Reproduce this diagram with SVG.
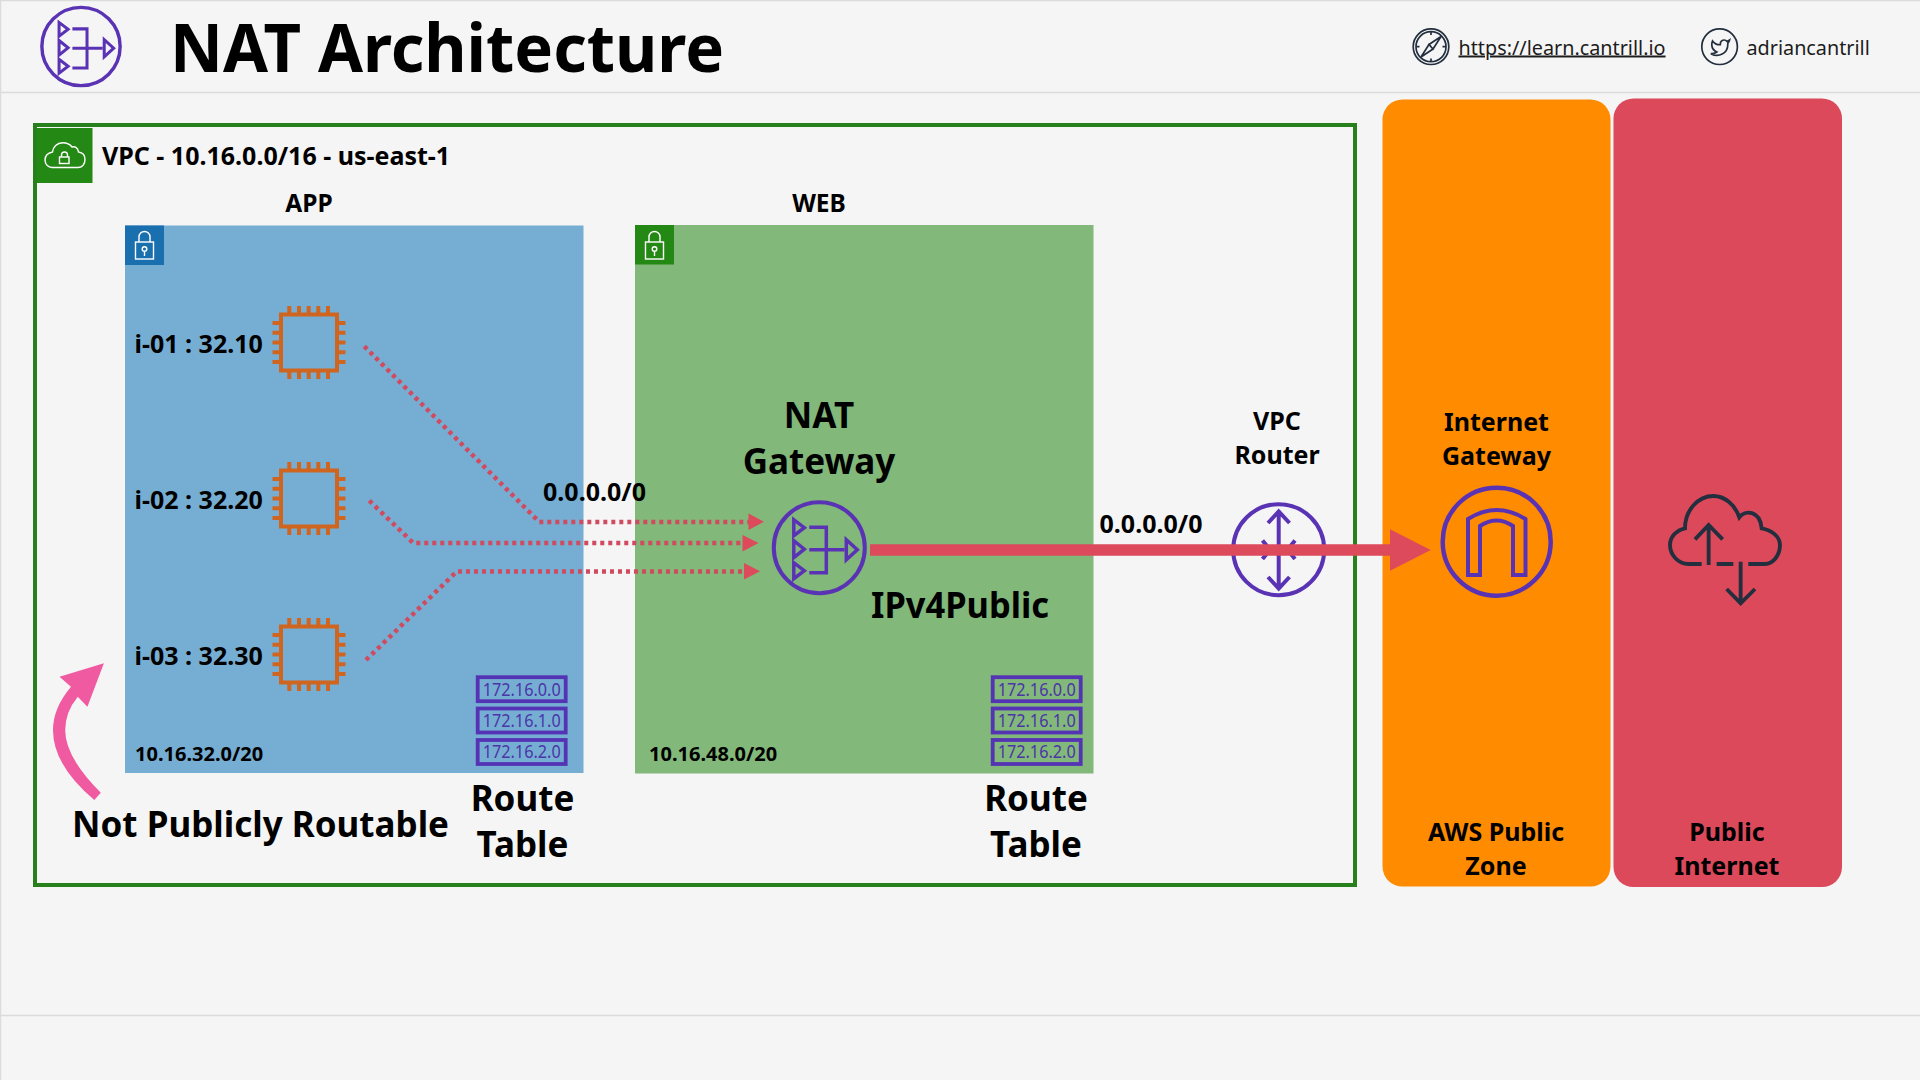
<svg xmlns="http://www.w3.org/2000/svg" width="1920" height="1080" viewBox="0 0 1920 1080">
<style>
text{font-family:"Noto Sans","Open Sans","Liberation Sans",sans-serif;fill:#000;font-weight:700}
.m{text-anchor:middle}
.t25{font-size:25px}
.t35{font-size:35px}
.t24{font-size:24.500px}
.p{fill:none;stroke:#5a33b5;stroke-width:4}
.n{fill:none;stroke:#5a33b5;stroke-width:3.500}
.chip{fill:none;stroke:#cf651f;stroke-width:4}
.w{fill:none;stroke:#fff;stroke-width:1.400}
.k{fill:none;stroke:#232f3e;stroke-width:1.700}
.rt{fill:none;stroke:#5433b5;stroke-width:3.800}
.rtt{font-size:18px;font-weight:400;fill:#4b35a8;text-anchor:middle}
.dot{fill:none;stroke:#d04a60;stroke-width:4.500;stroke-dasharray:4 4}
.ah{fill:#dc4a5c}
</style>
<defs>
<g id="chip">
<rect class="chip" x="-28" y="-28" width="56" height="56"/>
<path class="chip" d="M-19.700-36.500V-29M-10-36.500V-29M-.3-36.500V-29M9.300-36.500V-29M19-36.500V-29M-19.700 29V36.500M-10 29V36.500M-.3 29V36.500M9.300 29V36.500M19 29V36.500M-36.500-19.500H-29M-36.500-9.800H-29M-36.500-.1H-29M-36.500 9.800H-29M-36.500 19.500H-29M29-19.500H36.500M29-9.800H36.500M29-.1H36.500M29 9.800H36.500M29 19.500H36.500"/>
</g>
<g id="lock">
<path class="w" d="M-5.500-7V-12a5.500 5.500 0 0 1 11 0V-7"/>
<rect class="w" x="-9" y="-7" width="18" height="17"/>
<circle class="w" cx="0" cy="0" r="2.300"/>
<path class="w" d="M0 2.300V7"/>
</g>
<g id="routes">
<rect class="rt" x="1.700" y="1.700" width="88" height="24"/>
<rect class="rt" x="1.700" y="33" width="88" height="24"/>
<rect class="rt" x="1.700" y="64.500" width="88" height="24"/>
<text class="rtt" x="45.700" y="20.500" textLength="78" lengthAdjust="spacingAndGlyphs">172.16.0.0</text>
<text class="rtt" x="45.700" y="51" textLength="78" lengthAdjust="spacingAndGlyphs">172.16.1.0</text>
<text class="rtt" x="45.700" y="82" textLength="78" lengthAdjust="spacingAndGlyphs">172.16.2.0</text>
</g>
<g id="nat">
<circle class="p" cx="0" cy="0" r="45.500"/>
<path class="n" d="M-25.500-28V-12L-15-20ZM-25.500-7V10L-15 1.500ZM-25.500 15V31L-15 23ZM-10-20.500H7V25H-10M-10 2H25M27-8V12L38 2Z"/>
</g>
</defs>
<rect id="background" width="1920" height="1080" fill="#f5f5f5"/>
<g id="frame-lines" stroke="#dcdcdc" stroke-width="1.500" fill="none">
<path d="M0 92.500H1920M0 1015.500H1920M0 .5H1920M.5 0V1080"/>
</g>
<g id="header">
<g id="header-icon"><use href="#nat" transform="translate(81 46.500) scale(.86)"/></g>
<text id="title" x="170" y="71.500" font-size="67" textLength="554" lengthAdjust="spacingAndGlyphs">NAT Architecture</text>
<g id="site-link">
<circle class="k" cx="1431" cy="46.700" r="17.800"/>
<circle class="k" cx="1431" cy="46.700" r="15"/>
<path class="k" d="M1441 36.500L1433 49L1429 44.500ZM1421 57L1429 44.500L1433 49Z"/>
<path class="k" d="M1431 32V35M1431 58.500V61.500M1416.500 46.700H1419.500M1442.500 46.700H1445.500"/>
<text x="1458.500" y="54.500" font-size="19.800" style="font-weight:400;fill:#1c1c1c" text-decoration="underline">https://learn.cantrill.io</text>
</g>
<g id="twitter-link">
<circle class="k" cx="1719.600" cy="46.700" r="17.800"/>
<path class="k" transform="translate(1710 37.500) scale(.85)" style="stroke-width:2" d="M23 3a10.900 10.900 0 0 1-3 1.530 4.480 4.480 0 0 0-7.860 3v1A10.660 10.660 0 0 1 3 4s-4 9 5 13a11.640 11.640 0 0 1-7 2c9 5 20 0 20-11.500a4.500 4.500 0 0 0-.08-.83A7.720 7.720 0 0 0 23 3z"/>
<text x="1746.500" y="54.500" font-size="19.800" style="font-weight:400;fill:#1c1c1c">adriancantrill</text>
</g>
</g>
<g id="vpc">
<rect x="35" y="125" width="1320" height="760" fill="none" stroke="#27801b" stroke-width="4"/>
<rect x="37" y="128" width="55.500" height="55" fill="#248814"/>
<path class="w" d="M52 167.500H78C83 167.500 85 163 85 159.500C85 155 82 152.500 78.500 152C78 148 75 146 72 147C70 144 66 142.700 62.500 142.700C57 142.700 53 147 52.500 152C48 153 45 156 45 160C45 164 48 167.500 52 167.500Z"/>
<rect class="w" x="59.500" y="157" width="9.500" height="6.500"/>
<path class="w" d="M61.500 157V155a3 3 0 0 1 6 0V157"/>
<text x="102" y="165" class="t25">VPC - 10.16.0.0/16 - us-east-1</text>
</g>
<g id="app-subnet">
<text x="309" y="212" class="m t24">APP</text>
<rect x="125" y="225.500" width="458.500" height="547.500" fill="#76aed3"/>
<rect x="125" y="225.500" width="39" height="39.500" fill="#1a6fae"/>
<use href="#lock" x="144.500" y="249"/>
<text x="135" y="760.500" font-size="20">10.16.32.0/20</text>
</g>
<g id="web-subnet">
<text x="819" y="212" class="m t24">WEB</text>
<rect x="635" y="225" width="458.500" height="548.500" fill="#82b87a"/>
<rect x="635" y="225" width="39" height="39.500" fill="#248814"/>
<use href="#lock" x="654.500" y="249"/>
<text x="649" y="760.500" font-size="20">10.16.48.0/20</text>
</g>
<g id="i-01"><use href="#chip" x="309" y="342.500"/><text x="134.500" y="352.500" class="t25">i-01 : 32.10</text></g>
<g id="i-02"><use href="#chip" x="309" y="498.500"/><text x="134.500" y="508.500" class="t25">i-02 : 32.20</text></g>
<g id="i-03"><use href="#chip" x="309" y="654.500"/><text x="134.500" y="665" class="t25">i-03 : 32.30</text></g>
<g id="app-route-table"><use href="#routes" x="476" y="675.500"/>
<text x="522.500" y="811" class="m t35">Route</text><text x="522.500" y="857" class="m t35">Table</text></g>
<g id="web-route-table"><use href="#routes" x="991" y="675.500"/>
<text x="1036" y="811" class="m t35">Route</text><text x="1036" y="857" class="m t35">Table</text></g>
<g id="not-routable">
<path d="M100.800 792.700Q65 757 65.200 730Q65.200 712 77.800 696.700L87.400 706.700L103.900 663.300L59.500 676.700L71 686.700Q53 708 53 730Q53 765 94.300 800Z" fill="#ef5aa0"/>
<text x="72" y="837" class="t35" textLength="377" lengthAdjust="spacingAndGlyphs">Not Publicly Routable</text>
</g>
<g id="public-zone">
<rect x="1382.500" y="99.500" width="228" height="787" rx="20" fill="#ff8c00"/>
<text x="1496" y="841" class="m t25">AWS Public</text><text x="1496" y="875" class="m t25">Zone</text>
</g>
<g id="public-internet">
<rect x="1613.500" y="98.500" width="228.500" height="788.500" rx="20" fill="#db495b"/>
<text x="1727" y="841" class="m t25">Public</text><text x="1727" y="875" class="m t25">Internet</text>
<g transform="translate(1620 460) scale(.3333)" fill="none" stroke="#232f3e" stroke-width="11.500">
<path d="M245 312H205C175 312 150 285 150 255C150 230 170 210 195 205C195 150 235 108 280 108C315 108 345 135 358 172C375 150 420 150 425 205C455 210 480 230 480 255C480 285 460 312 435 312H385M290 312H340M266 315V195M225 238L266 195L308 238M362 305V428M320 387L362 430L405 387"/>
</g>
</g>
<g id="nat-gateway">
<use href="#nat" x="819.300" y="547.700"/>
<text x="819" y="427.500" class="m t35">NAT</text><text x="819" y="474" class="m t35">Gateway</text>
<text x="871" y="618" class="t35" textLength="178" lengthAdjust="spacingAndGlyphs">IPv4Public</text>
</g>
<g id="vpc-router">
<text x="1277" y="430" class="m t25">VPC</text><text x="1277" y="464" class="m t25">Router</text>
<circle class="p" cx="1278.700" cy="549.700" r="45.500"/>
<path class="p" d="M1278.700 511.500V588.500M1268 523L1278.700 511.500L1289.500 523M1268 577L1278.700 588.500L1289.500 577M1262.500 540.500L1270 549.700L1262.500 559M1295 540.500L1287.500 549.700L1295 559"/>
</g>
<g id="internet-gateway">
<text x="1496.500" y="431" class="m t25">Internet</text><text x="1496.500" y="465" class="m t25">Gateway</text>
<circle cx="1496.700" cy="541.700" r="54" fill="none" stroke="#5a33b5" stroke-width="4.500"/>
<path class="p" d="M1468 575V519Q1496.700 501 1525.500 519V575H1513V526Q1496.700 515 1480 526V575Z"/>
</g>
<g id="connectors">
<path class="dot" d="M364.300 346.300L539.300 522H749"/>
<path class="dot" d="M369.300 500.700L413.300 543H743"/>
<path class="dot" d="M366 660L456.700 571.500H744"/>
<path class="ah" d="M748.500 513.500L764 521.800L748.500 530ZM742.500 535L758.500 543L742.500 551.500ZM744 563L760 571.300L744 579.500Z"/>
<path d="M870 550H1392" fill="none" stroke="#dc4a5c" stroke-width="11.500"/>
<path class="ah" d="M1390 529.300L1430.700 550L1390 570.700Z"/>
</g>
<g id="route-labels">
<text x="543" y="501" class="t25">0.0.0.0/0</text>
<text x="1099.500" y="533" class="t25">0.0.0.0/0</text>
</g>
</svg>
